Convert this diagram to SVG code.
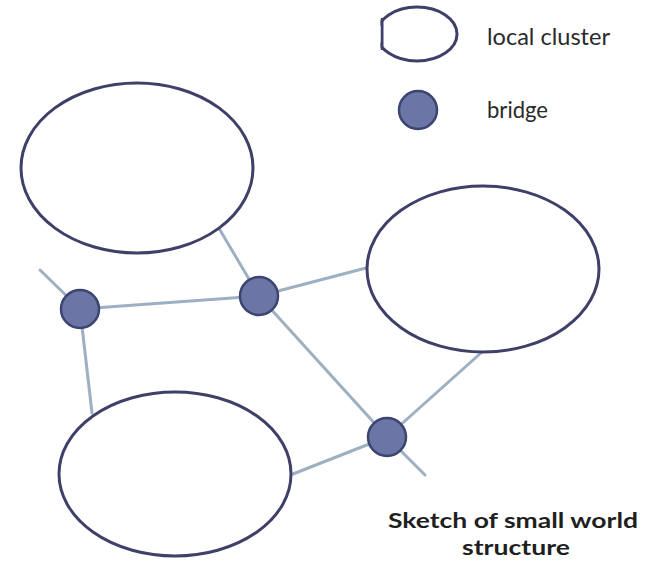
<svg xmlns="http://www.w3.org/2000/svg" width="660" height="561" viewBox="0 0 660 561">
  <style>
    .cluster { fill: #ffffff; stroke: #3e4068; stroke-width: 3; }
    .bridge { fill: #6b76a6; stroke: #3c4470; stroke-width: 2.5; }
    .link { stroke: #9cb0c2; stroke-width: 3; fill: none; stroke-linecap: round; }
    .legend { font-family: Lato, "Open Sans", sans-serif; font-size: 23px; fill: #2a2a2a; }
    .caption { font-family: Lato, "Open Sans", sans-serif; font-size: 21px; font-weight: bold; fill: #1f1f1f; text-anchor: middle; }
  </style>
  <defs>
    <clipPath id="legendClip">
      <rect x="380.5" y="0" width="100" height="70"/>
    </clipPath>
  </defs>
  <rect width="660" height="561" fill="#ffffff"/>

  <!-- connectors -->
  <g id="links">
    <line class="link" x1="220" y1="230" x2="259" y2="296"/>
    <line class="link" x1="40" y1="270" x2="80" y2="309"/>
    <line class="link" x1="80" y1="309" x2="259" y2="296"/>
    <line class="link" x1="80" y1="309" x2="92" y2="413"/>
    <line class="link" x1="259" y1="296" x2="366" y2="268"/>
    <line class="link" x1="259" y1="296" x2="387" y2="437"/>
    <line class="link" x1="387" y1="437" x2="482" y2="352"/>
    <line class="link" x1="387" y1="437" x2="293" y2="474"/>
    <line class="link" x1="387" y1="437" x2="425" y2="475"/>
  </g>

  <!-- local clusters -->
  <g id="cluster-top-left"><ellipse class="cluster" cx="137" cy="168" rx="116" ry="85"/></g>
  <g id="cluster-right"><ellipse class="cluster" cx="483" cy="269" rx="116" ry="83"/></g>
  <g id="cluster-bottom"><ellipse class="cluster" cx="175" cy="474" rx="116" ry="82"/></g>

  <!-- bridges -->
  <g id="bridge-left"><circle class="bridge" cx="80" cy="309" r="19"/></g>
  <g id="bridge-center"><circle class="bridge" cx="259" cy="296" r="19"/></g>
  <g id="bridge-lower"><circle class="bridge" cx="387" cy="437" r="19"/></g>

  <!-- legend -->
  <g id="legend">
    <g clip-path="url(#legendClip)">
      <ellipse class="cluster" cx="417" cy="34" rx="40" ry="27"/>
      <line x1="382" y1="18" x2="382" y2="50" stroke="#3e4068" stroke-width="3"/>
    </g>
    <circle class="bridge" cx="418" cy="110" r="19"/>
    <text class="legend" x="487" y="45" textLength="123" lengthAdjust="spacingAndGlyphs">local cluster</text>
    <text class="legend" x="487" y="118" textLength="61" lengthAdjust="spacingAndGlyphs">bridge</text>
  </g>

  <!-- caption -->
  <g id="caption">
    <text class="caption" x="513" y="528" textLength="250" lengthAdjust="spacingAndGlyphs">Sketch of small world</text>
    <text class="caption" x="516" y="555" textLength="108" lengthAdjust="spacingAndGlyphs">structure</text>
  </g>
</svg>
